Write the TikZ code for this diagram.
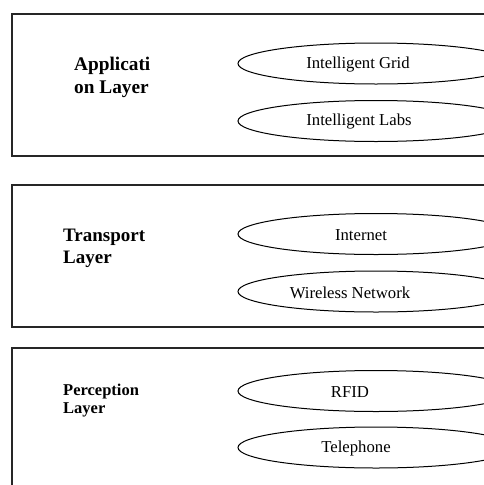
\documentclass[tikz,border=0pt]{standalone}
\usepackage{fontspec}
\setmainfont{Liberation Serif}
\usetikzlibrary{shapes.geometric}
\begin{document}
\begin{tikzpicture}[x=1pt,y=-1pt,
  layerbox/.style={draw=black!85,line width=1.2pt},
  ellbox/.style={draw=black,line width=1pt,ellipse,inner sep=0pt,minimum width=276pt,minimum height=41pt},
  etext/.style={inner sep=0pt,font=\fontsize{16.7}{19}\selectfont},
  ltext/.style={inner sep=0pt,align=left,anchor=base west}]
\useasboundingbox (0,0) rectangle (484,485);
\clip (0,0) rectangle (484,485);
% layer boxes
\draw[layerbox] (12,14) rectangle (495,156);
\draw[layerbox] (12,185) rectangle (495,327);
\draw[layerbox] (12,348) rectangle (495,500);
% labels (base anchor = baseline of last line)
\node[ltext,font=\fontsize{19.3}{22.5}\selectfont\bfseries] (app) at (74,93) {Applicati\\on Layer};
\node[ltext,font=\fontsize{19}{21.5}\selectfont\bfseries] (tra) at (63,263) {Transport\\Layer};
\node[ltext,font=\fontsize{16.5}{17.7}\selectfont\bfseries] (per) at (63,413.3) {Perception\\Layer};
% ellipses
\node[ellbox] (e1) at (376,63.5) {};
\node[ellbox] (e2) at (376,121) {};
\node[ellbox] (e3) at (376,234) {};
\node[ellbox] (e4) at (376,291.5) {};
\node[ellbox] (e5) at (376,391) {};
\node[ellbox] (e6) at (376,447.5) {};
\node[etext] (t1) at (358,64.5) {Intelligent Grid};
\node[etext] (t2) at (359,122) {Intelligent Labs};
\node[etext] (t3) at (361,235) {Internet};
\node[etext] (t4) at (350,292.5) {Wireless Network};
\node[etext] (t5) at (350,392) {RFID};
\node[etext] (t6) at (356,448.5) {Telephone};
\end{tikzpicture}
\end{document}
